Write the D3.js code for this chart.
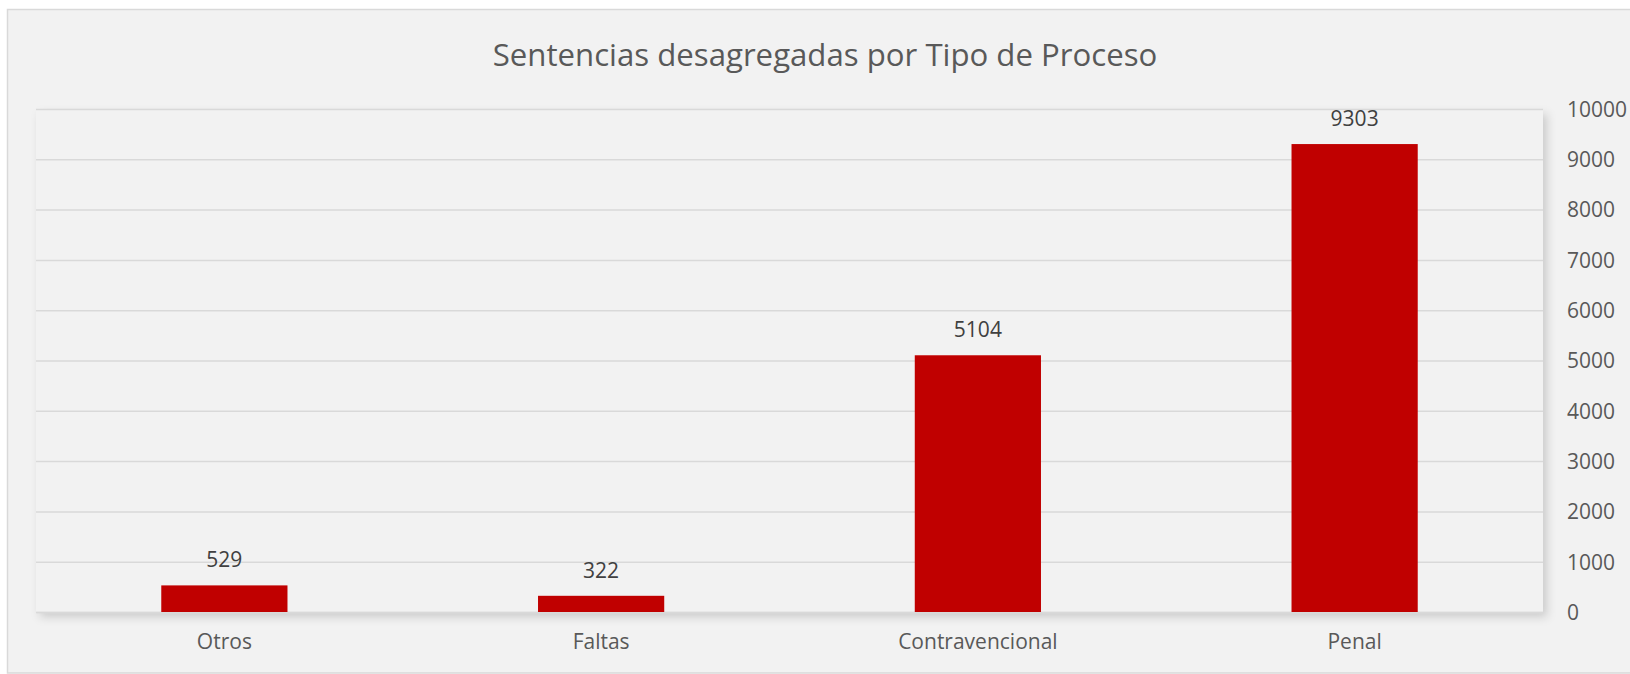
<!DOCTYPE html>
<html>
<head>
<meta charset="utf-8">
<script src="https://cdn.jsdelivr.net/npm/d3@7"></script>
<style>
	body { margin: 0; background: #ffffff; }
	svg { display: block; }
</style>
</head>
<body>
<div id="divplot"></div>
<script>
// Sentencias por tipo de proceso

const categories = ['Otros', 'Faltas', 'Contravencional', 'Penal']
const sentencias = [529, 322, 5104, 9303]
const yTicks = [0, 1000, 2000, 3000, 4000, 5000, 6000, 7000, 8000, 9000, 10000]
const title = 'Sentencias desagregadas por Tipo de Proceso'

const plot = () => {
	let width = 1630
	let height = 674
	let left = 36
	let right = 1543
	let top = 109
	let bottom = 612
	let font = "'Open Sans', 'Liberation Sans', sans-serif"

	let data = categories.map((c, i) => { return { name: c, value: sentencias[i] } })

	let xScale = d3.scaleBand()
		.domain(categories)
		.range([left, right])
		.paddingInner(0.665)
		.paddingOuter(0.3325)

	let yScale = d3.scaleLinear()
		.domain([0, 10000])
		.range([bottom, top])

	let svg = d3.select('#divplot')
		.append('svg')
		.attr('width', width)
		.attr('height', height)

	let defs = svg.append('defs')
	defs.append('filter')
		.attr('id', 'shadow')
		.attr('x', '-5%').attr('y', '-5%')
		.attr('width', '110%').attr('height', '115%')
		.append('feDropShadow')
		.attr('dx', 4).attr('dy', 5)
		.attr('stdDeviation', 5)
		.attr('flood-color', '#000')
		.attr('flood-opacity', 0.16)

	// chart area (right edge runs off the page)
	svg.append('rect')
		.attr('x', 7.5).attr('y', 9.5)
		.attr('width', width + 10).attr('height', height - 10.5)
		.attr('fill', '#f2f2f2')
		.attr('stroke', '#d9d9d9')
		.attr('stroke-width', 1.5)

	// plot area with shadow
	svg.append('rect')
		.attr('x', left).attr('y', top)
		.attr('width', right - left).attr('height', bottom - top)
		.attr('fill', '#f2f2f2')
		.attr('filter', 'url(#shadow)')

	svg.append('text')
		.attr('class', 'title')
		.attr('x', 825)
		.attr('y', 66)
		.attr('text-anchor', 'middle')
		.attr('style', `font-size: 31px; font-family: ${font}; font-weight: 400`)
		.attr('fill', '#595959')
		.text(title)

	// fit title to the reference width
	let t = svg.select('text.title')
	let tw = t.node().getComputedTextLength()
	t.style('font-size', (31 * 665 / tw) + 'px')

	let yAxis = d3.axisRight(yScale)
		.tickValues(yTicks)
		.tickSize(-(right - left))
		.tickPadding(24)
		.tickFormat(d3.format('d'))

	let ya = svg.append('g')
		.attr('transform', `translate(${right},0)`)
		.call(yAxis)
	ya.select('.domain').remove()
	ya.selectAll('line')
		.attr('stroke', '#d9d9d9')
		.attr('stroke-width', 1.5)
	ya.selectAll('text')
		.attr('fill', '#595959')
		.attr('dy', '0.35em')
		.attr('style', `font-size: 21px; font-family: ${font}`)

	let xAxis = d3.axisBottom(xScale)
		.tickSize(0)
		.tickPadding(22)

	let xa = svg.append('g')
		.attr('transform', `translate(0,${bottom})`)
		.call(xAxis)
	xa.select('.domain')
		.attr('stroke', '#d9d9d9')
		.attr('stroke-width', 1.5)
	xa.selectAll('text')
		.attr('fill', '#595959')
		.attr('style', `font-size: 21px; font-family: ${font}`)

	svg.selectAll('rect.bar')
		.data(data)
		.enter()
		.append('rect')
		.attr('class', 'bar')
		.attr('x', d => { return xScale(d.name) })
		.attr('y', d => { return yScale(d.value) })
		.attr('width', xScale.bandwidth())
		.attr('height', d => { return yScale(0) - yScale(d.value) })
		.attr('fill', '#c00000')

	svg.selectAll('text.label')
		.data(data)
		.enter()
		.append('text')
		.attr('class', 'label')
		.attr('x', d => { return xScale(d.name) + xScale.bandwidth() / 2 })
		.attr('y', d => { return yScale(d.value) - 18 })
		.attr('text-anchor', 'middle')
		.attr('style', `font-size: 21px; font-family: ${font}`)
		.attr('fill', '#404040')
		.text(d => { return d.value })
}

plot()
</script>
</body>
</html>
